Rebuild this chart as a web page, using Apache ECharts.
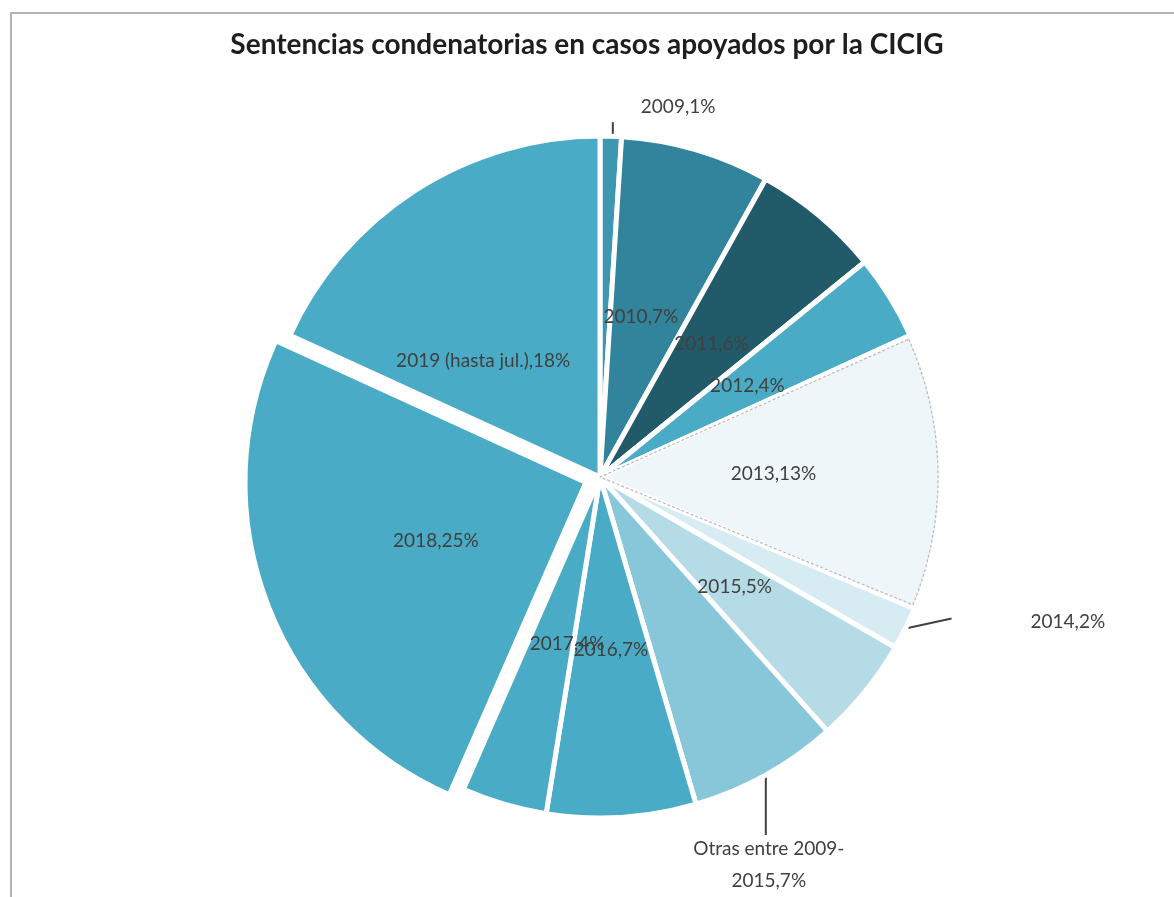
<!DOCTYPE html>
<html>
<head>
<meta charset="utf-8">
<script src="https://cdn.jsdelivr.net/npm/echarts@6/dist/echarts.min.js"></script>
<style>
  html, body { margin: 0; padding: 0; background: #fff; }
  #chart { width: 1174px; height: 897px; }
</style>
</head>
<body>
<div id="chart"></div>
<script>
// ---- data ----
var titleText = 'Sentencias condenatorias en casos apoyados por la CICIG';
var categories = ['2009', '2010', '2011', '2012', '2013', '2014', '2015',
  'Otras entre 2009-2015', '2016', '2017', '2018', '2019 (hasta jul.)'];
var percents = [1, 7, 6, 4, 13, 2, 5, 7, 7, 4, 25, 18];
var colors = ['#3d97b1', '#31849b', '#215a69', '#4aabc6', '#eef6f9', '#d7ecf2',
  '#b5dbe6', '#88c6d9', '#4aabc6', '#4aabc6', '#4aabc6', '#4aabc6'];
var outsideIdx = [0, 5, 7];
var explodedIdx = [10];
var dashedIdx = 4;

var FONT = 'Lato';
var TXT = '#404040';

var mainData = categories.map(function (c, i) {
  var d = { name: c, value: percents[i], itemStyle: { color: colors[i] } };
  if (outsideIdx.indexOf(i) >= 0) {
    d.label = { position: 'outside' };
    d.labelLine = { show: true, length: 10, length2: 10 };
  }
  if (explodedIdx.indexOf(i) >= 0) d.selected = true;
  return d;
});

var overlayData = categories.map(function (c, i) {
  var d = { name: c, value: percents[i] };
  if (i === dashedIdx) {
    d.itemStyle = { color: 'transparent', borderColor: '#bdbdbd', borderType: [3, 2], borderWidth: 1.3 };
  }
  return d;
});

var chart = echarts.init(document.getElementById('chart'), null, { renderer: 'canvas' });
chart.setOption({
  animation: false,
  backgroundColor: '#ffffff',
  title: {
    text: titleText,
    left: 'center',
    top: 26,
    textStyle: { fontFamily: FONT, fontWeight: 'bold', fontSize: 28, color: '#1e1e1e' }
  },
  graphic: [{
    type: 'polyline',
    shape: { points: [[11, 897], [11, 13], [1174, 13]] },
    style: { stroke: '#b3b3b3', lineWidth: 2, fill: null },
    silent: true
  }],
  series: [{
    type: 'pie',
    center: [600, 477],
    radius: 341,
    startAngle: 90,
    clockwise: true,
    selectedMode: 'multiple',
    selectedOffset: 15,
    avoidLabelOverlap: false,
    itemStyle: { borderColor: '#ffffff', borderWidth: 5 },
    emphasis: { disabled: true },
    label: {
      show: true,
      position: 'inside',
      color: TXT,
      fontFamily: FONT,
      fontSize: 19,
      lineHeight: 32,
      formatter: function (p) {
        var n = p.name;
        if (n.indexOf('Otras') === 0) n = n.replace('2009-', '2009-\n');
        return n + ',' + p.value + '%';
      }
    },
    labelLine: { show: false, lineStyle: { color: '#404040', width: 2 } },
    labelLayout: function (p) {
      var s = p.labelLinePoints && p.labelLinePoints[0];
      if (p.dataIndex === 0 && s) {
        return { x: s[0] + 30, y: s[1] - 29, align: 'left', verticalAlign: 'middle',
          labelLinePoints: [[s[0] + 2, s[1] + 1], [s[0] + 2, s[1] - 14], [s[0] + 2, s[1] - 14]] };
      }
      if (p.dataIndex === 5 && s) {
        return { x: s[0] + 125, y: s[1] - 7, align: 'left', verticalAlign: 'middle',
          labelLinePoints: [[s[0], s[1]], [s[0] + 46, s[1] - 10], [s[0] + 46, s[1] - 10]] };
      }
      if (p.dataIndex === 7 && s) {
        return { x: s[0] + 3, y: s[1] + 90, align: 'center', verticalAlign: 'middle',
          labelLinePoints: [[s[0], s[1]], [s[0], s[1] + 60], [s[0], s[1] + 60]] };
      }
      if (p.dataIndex === 1) return { dx: -8, dy: 6 };
      if (p.dataIndex === 11) return { dx: -23, dy: 30 };
      if (p.dataIndex === 9) return { dx: 16, dy: 0 };
      if (p.dataIndex === 10) return { dx: 12, dy: -3 };
    },
    data: mainData
  }, {
    type: 'pie',
    silent: true,
    center: [600, 477],
    radius: 338,
    startAngle: 90,
    clockwise: true,
    padAngle: 1,
    z: 3,
    itemStyle: { color: 'transparent', borderWidth: 0 },
    label: { show: false },
    labelLine: { show: false },
    emphasis: { disabled: true },
    data: overlayData
  }]
});
</script>
</body>
</html>
